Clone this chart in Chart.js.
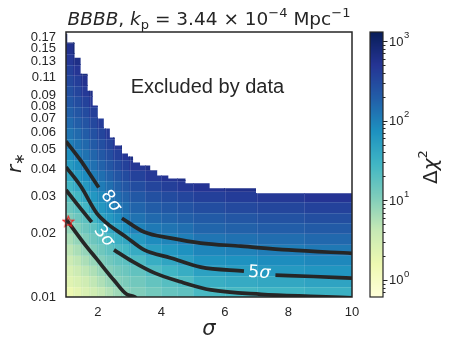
<!DOCTYPE html>
<html>
<head>
<meta charset="utf-8">
<script src="https://cdn.jsdelivr.net/npm/chart.js@4.4.0/dist/chart.umd.min.js"></script>
<style>
  html, body { margin: 0; background: #fff; }
  canvas { display: block; }
</style>
</head>
<body>
<canvas id="chi2map" width="452" height="349" style="width:452px;height:349px"></canvas>
<script>
// axis ticks
const sigmaTicks = [2, 4, 6, 8, 10];
const rTicks = [0.01, 0.02, 0.03, 0.04, 0.05, 0.06, 0.07, 0.08, 0.09, 0.11, 0.13, 0.15, 0.17];
const cbarTicks = [1, 10, 100, 1000];

// heatmap grid: column edges in sigma, row edges in r_*
const sigmaEdges = [1, 1.25, 1.5, 1.75, 2, 2.25, 2.5, 2.75, 3, 3.5, 4, 4.5, 5, 6, 7, 8.5, 10];
const rEdges = [0.0100, 0.0112, 0.0126, 0.0141, 0.0158, 0.0178, 0.0200, 0.0224, 0.0251, 0.0282,
                0.0316, 0.0355, 0.0398, 0.0447, 0.0501, 0.0562, 0.0631, 0.0708, 0.0794, 0.0891,
                0.1000, 0.1122, 0.1259, 0.1413, 0.1585, 0.1778];

// delta chi^2 per cell, row 0 = lowest r_*; rows stop where the excluded region begins
const chi2 = [
  [1.6, 2.0, 2.6, 3.3, 4.3, 5.5, 7.1, 9.2, 10.7, 13, 16, 17.5, 25, 26, 29, 33],
  [2.2, 2.7, 3.4, 4.5, 5.8, 7.6, 9.7, 11.3, 13.3, 16.5, 20, 23, 35, 38, 41, 46],
  [2.7, 3.6, 4.6, 5.8, 7.7, 10, 12.3, 14.4, 17, 22, 29, 36, 49, 53, 59, 66],
  [3.6, 4.6, 6.0, 7.9, 10.4, 13.3, 16.5, 18.5, 23.5, 34.5, 44, 51, 68, 72, 79, 87],
  [4.7, 6.1, 8.1, 10.6, 13.8, 17.6, 22.5, 27.5, 37, 52, 62, 72, 91, 98, 106, 118],
  [6.1, 8.2, 10.7, 14.2, 18, 26.5, 34.5, 41.5, 60, 81, 92, 103, 124, 134, 144, 158],
  [8.2, 10.5, 14.3, 18.2, 28, 40, 51, 69, 98, 116, 127, 140, 167, 181, 194, 210],
  [10.7, 14.3, 18.5, 29, 45.7, 59, 81, 107, 132, 155, 171, 189, 211, 232, 252, 276],
  [14.3, 18.8, 27.6, 46.5, 63, 84, 113, 138, 170, 200, 222, 245, 280, 310, 333, 360],
  [19.1, 27.4, 41.6, 63, 85, 113, 145, 179, 218, 262, 294, 328, 380, 420, 450, 495],
  [27.6, 40, 59, 84, 111, 142, 185, 230, 282, 340, 390, 440, 510, 580, 635],
  [40, 56, 80, 109, 140, 180, 237, 295, 362, 440, 510, 595],
  [56, 78, 105, 136, 176, 230, 293, 375, 470, 590],
  [78, 103, 131, 168, 221, 280, 378, 480, 630],
  [103, 128, 160, 211, 270, 355, 480, 635],
  [126, 154, 198, 255, 340, 450, 625],
  [152, 190, 242, 315, 420],
  [185, 232, 298, 385],
  [224, 280, 362, 480],
  [265, 335, 440, 610],
  [318, 400, 540],
  [372, 490, 690],
  [455, 610],
  [550, 765],
  [685, 960]
];

// upper edge of the allowed region (staircase)
const exclSigma = [1.00, 1.04, 1.27, 1.46, 1.68, 1.84, 2.00, 2.19, 2.38, 2.54, 2.76,
                   2.95, 3.11, 3.33, 3.65, 3.87, 4.22, 4.76, 5.52, 6.98, 10.0];
const exclTop = [0.176, 0.160, 0.1355, 0.114, 0.0947, 0.0805, 0.0699, 0.0627, 0.0569, 0.0521,
                 0.0478, 0.0462, 0.0433, 0.0419, 0.0397, 0.0376, 0.0364, 0.0345, 0.0327, 0.031];

// contour lines [sigma, r_*], split where the inline labels sit
const sigma8a = [[1.0, 0.0545], [1.46, 0.0443], [1.75, 0.0382], [2.03, 0.0330]];
const sigma8b = [[2.76, 0.0236], [3.46, 0.0203], [4.3, 0.0190], [5.24, 0.0180], [6.5, 0.0174], [8.0, 0.0167], [10, 0.0161]];
const sigma5a = [[1.0, 0.0412], [1.46, 0.0335], [1.97, 0.0249], [2.29, 0.0223], [2.9, 0.0192], [3.46, 0.0167], [4.3, 0.0153], [5.24, 0.01385], [6.6, 0.01327]];
const sigma5b = [[7.59, 0.0127], [8.8, 0.0125], [10, 0.01229]];
const sigma3a = [[1.0, 0.0321], [1.4, 0.0269], [1.81, 0.0226]];
const sigma3b = [[2.51, 0.0167], [3.1, 0.0147], [3.78, 0.0130], [4.6, 0.0118], [5.56, 0.0108], [7.14, 0.0103], [8.95, 0.01005], [10, 0.0099]];
const sigma2 = [[1.0, 0.0234], [1.56, 0.0180], [1.97, 0.0151], [2.51, 0.0120], [2.91, 0.0103], [3.17, 0.0100], [3.3, 0.0094]];

// inline contour labels
const levelLabels = [
  { n: '8', x: 2.41, y: 0.0284, angle: 53 },
  { n: '3', x: 2.19, y: 0.0194, angle: 52 },
  { n: '5', x: 7.08, y: 0.0130, angle: 4 }
];

// reference point
const refPoint = [[1.07, 0.0228]];

const CB_MIN = 0.61, CB_MAX = 1300;
const SANS = '"Liberation Sans", Arial, sans-serif';
const MATH = '"DejaVu Sans", sans-serif';
const INK = '#262626';

const YLGNBU = ['#ffffd9', '#edf8b1', '#c7e9b4', '#7fcdbb', '#41b6c4', '#1d91c0', '#225ea8', '#253494', '#081d58']
  .map(h => [1, 3, 5].map(k => parseInt(h.slice(k, k + 2), 16)));

function cmapFrac(t) {
  t = Math.min(1, Math.max(0, t)) * 8;
  const i = Math.min(7, Math.floor(t)), f = t - i;
  const a = YLGNBU[i], b = YLGNBU[i + 1];
  return 'rgb(' + a.map((c, k) => Math.round(c + (b[k] - c) * f)).join(',') + ')';
}
const lmin = Math.log10(CB_MIN), lmax = Math.log10(CB_MAX);
const cmap = v => cmapFrac((Math.log10(v) - lmin) / (lmax - lmin));

const toXY = pts => pts.map(p => ({ x: p[0], y: p[1] }));

function starImage(size, color) {
  const c = document.createElement('canvas');
  c.width = c.height = size;
  const g = c.getContext('2d');
  g.strokeStyle = color;
  g.lineWidth = 1.1;
  g.beginPath();
  for (let k = 0; k < 10; k++) {
    const R = k % 2 ? size * 0.19 : size * 0.44;
    const a = -Math.PI / 2 + k * Math.PI / 5;
    g.lineTo(size / 2 + R * Math.cos(a), size / 2 + 0.5 + R * Math.sin(a));
  }
  g.closePath();
  g.stroke();
  return c;
}

// draws a row of text pieces (font, text, baseline shift) centred on cx
function drawRuns(ctx, runs, cx, cy) {
  let w = 0;
  runs.forEach(r => { ctx.font = r.font; r.w = ctx.measureText(r.t).width; w += r.w; });
  let x = cx - w / 2;
  runs.forEach(r => {
    ctx.font = r.font;
    ctx.fillText(r.t, x, cy + (r.dy || 0));
    x += r.w;
  });
}

const heatmap = {
  id: 'heatmap',
  beforeDatasetsDraw(chart) {
    const { ctx, chartArea: a, scales: { x, y } } = chart;
    ctx.save();
    ctx.beginPath();
    ctx.rect(a.left, a.top, a.width, a.height);
    ctx.clip();
    // allowed region
    ctx.beginPath();
    ctx.moveTo(x.getPixelForValue(exclSigma[0]), a.bottom);
    exclTop.forEach((top, k) => {
      ctx.lineTo(x.getPixelForValue(exclSigma[k]), y.getPixelForValue(top));
      ctx.lineTo(x.getPixelForValue(exclSigma[k + 1]), y.getPixelForValue(top));
    });
    ctx.lineTo(x.getPixelForValue(exclSigma[exclSigma.length - 1]), a.bottom);
    ctx.closePath();
    ctx.clip();
    chi2.forEach((row, i) => row.forEach((v, j) => {
      const x0 = Math.floor(x.getPixelForValue(sigmaEdges[j]));
      const x1 = Math.ceil(x.getPixelForValue(sigmaEdges[j + 1]));
      const y0 = Math.floor(y.getPixelForValue(rEdges[i + 1]));
      const y1 = Math.ceil(y.getPixelForValue(rEdges[i]));
      ctx.fillStyle = cmap(v);
      ctx.fillRect(x0, y0, x1 - x0, y1 - y0);
    }));
    // faint cell edges
    ctx.strokeStyle = 'rgba(255,255,255,0.13)';
    ctx.lineWidth = 1;
    ctx.beginPath();
    sigmaEdges.slice(1, -1).forEach(s => {
      const px = Math.round(x.getPixelForValue(s)) + 0.5;
      ctx.moveTo(px, a.top);
      ctx.lineTo(px, a.bottom);
    });
    rEdges.slice(1, -1).forEach(r => {
      const py = Math.round(y.getPixelForValue(r)) + 0.5;
      ctx.moveTo(a.left, py);
      ctx.lineTo(a.right, py);
    });
    ctx.stroke();
    ctx.restore();
  },
  afterDatasetsDraw(chart) {
    const { ctx, scales: { x, y } } = chart;
    ctx.save();
    ctx.fillStyle = '#fff';
    ctx.textBaseline = 'middle';
    levelLabels.forEach(l => {
      ctx.save();
      ctx.translate(x.getPixelForValue(l.x), y.getPixelForValue(l.y));
      ctx.rotate(l.angle * Math.PI / 180);
      drawRuns(ctx, [
        { t: l.n, font: '17.5px ' + MATH },
        { t: 'σ', font: 'italic 17.5px ' + MATH }
      ], 0, 0);
      ctx.restore();
    });
    ctx.restore();
  }
};

const decor = {
  id: 'decor',
  afterDraw(chart) {
    const { ctx, chartArea: a, scales: { x, y } } = chart;
    ctx.save();
    ctx.fillStyle = INK;

    // note inside the excluded area
    ctx.font = '20px ' + SANS;
    ctx.textAlign = 'center';
    ctx.textBaseline = 'middle';
    ctx.fillText('Excluded by data', x.getPixelForValue(5.45), y.getPixelForValue(0.098));

    // frame
    ctx.strokeStyle = INK;
    ctx.lineWidth = 1.5;
    ctx.strokeRect(a.left, a.top, a.width, a.height);

    // title
    ctx.textAlign = 'left';
    ctx.textBaseline = 'alphabetic';
    drawRuns(ctx, [
      { t: 'BBBB', font: 'italic 18.5px ' + MATH },
      { t: ', ', font: '18.5px ' + MATH },
      { t: 'k', font: 'italic 18.5px ' + MATH },
      { t: 'p', font: '13px ' + MATH, dy: 4 },
      { t: ' = 3.44 × 10', font: '18.5px ' + MATH },
      { t: '−4', font: '13px ' + MATH, dy: -8 },
      { t: ' Mpc', font: '18.5px ' + MATH },
      { t: '−1', font: '13px ' + MATH, dy: -8 }
    ], (a.left + a.right) / 2, 25);

    // axis titles
    ctx.textBaseline = 'middle';
    drawRuns(ctx, [{ t: 'σ', font: 'italic 21px ' + MATH }], (a.left + a.right) / 2, 330);
    ctx.save();
    ctx.translate(16, 163);
    ctx.rotate(-Math.PI / 2);
    drawRuns(ctx, [
      { t: 'r', font: 'italic 20px ' + MATH },
      { t: '∗', font: '14px ' + MATH, dy: 4 }
    ], 0, 0);
    ctx.restore();

    // colour bar
    const cbL = 370, cbR = 383, cbT = a.top, cbB = a.bottom;
    const cbY = v => cbB - (Math.log10(v) - lmin) / (lmax - lmin) * (cbB - cbT);
    for (let py = cbT; py < cbB; py++) {
      ctx.fillStyle = cmapFrac((cbB - py - 0.5) / (cbB - cbT));
      ctx.fillRect(cbL, py, cbR - cbL, 1);
    }
    ctx.strokeStyle = INK;
    ctx.lineWidth = 1.2;
    ctx.strokeRect(cbL, cbT, cbR - cbL, cbB - cbT);
    ctx.lineWidth = 1;
    ctx.beginPath();
    for (let d = -1; d <= 3; d++) {
      for (let m = 1; m <= 9; m++) {
        const v = m * Math.pow(10, d);
        if (v < CB_MIN || v > CB_MAX) continue;
        const py = Math.round(cbY(v)) + 0.5;
        ctx.moveTo(cbR, py);
        ctx.lineTo(cbR + (m === 1 ? 4.5 : 2.5), py);
      }
    }
    ctx.stroke();
    ctx.fillStyle = INK;
    ctx.textAlign = 'left';
    ctx.textBaseline = 'middle';
    cbarTicks.forEach(v => {
      const py = cbY(v);
      ctx.font = '13px ' + SANS;
      ctx.fillText('10', 389, py + 1);
      const w = ctx.measureText('10').width;
      ctx.font = '9.5px ' + SANS;
      ctx.fillText(String(Math.round(Math.log10(v))), 389 + w + 0.5, py - 6);
    });
    ctx.save();
    ctx.translate(432, 167);
    ctx.rotate(-Math.PI / 2);
    drawRuns(ctx, [
      { t: 'Δ', font: '20px ' + MATH },
      { t: 'χ', font: 'italic 20px ' + MATH },
      { t: '2', font: '13px ' + MATH, dy: -8 }
    ], 0, 0);
    ctx.restore();

    ctx.restore();
  }
};

const lineStyle = {
  showLine: true,
  borderColor: INK,
  borderWidth: 3.7,
  pointRadius: 0,
  cubicInterpolationMode: 'monotone',
  borderCapStyle: 'butt',
  order: 1
};

new Chart(document.getElementById('chi2map'), {
  type: 'scatter',
  data: {
    datasets: [
      { ...lineStyle, data: toXY(sigma8a) },
      { ...lineStyle, data: toXY(sigma8b) },
      { ...lineStyle, data: toXY(sigma5a) },
      { ...lineStyle, data: toXY(sigma5b) },
      { ...lineStyle, data: toXY(sigma3a) },
      { ...lineStyle, data: toXY(sigma3b) },
      { ...lineStyle, data: toXY(sigma2) },
      {
        data: toXY(refPoint),
        pointStyle: starImage(13, '#ee1c1c'),
        pointRadius: 6,
        clip: false,
        order: 0
      }
    ]
  },
  options: {
    responsive: false,
    animation: false,
    devicePixelRatio: 1,
    layout: { padding: { left: 0, right: 100, top: 32, bottom: 0 } },
    plugins: { legend: { display: false }, tooltip: { enabled: false } },
    scales: {
      x: {
        type: 'linear',
        min: 1,
        max: 10,
        grid: { display: false, drawTicks: false },
        border: { display: false },
        ticks: {
          autoSkip: false, maxRotation: 0, padding: 8, color: INK,
          font: { family: SANS, size: 13 },
          callback: v => String(v)
        },
        afterBuildTicks: s => { s.ticks = sigmaTicks.map(v => ({ value: v })); },
        afterFit: s => { s.height = 52; }
      },
      y: {
        type: 'logarithmic',
        min: 0.01,
        max: 0.1795,
        grid: { display: false, drawTicks: false },
        border: { display: false },
        ticks: {
          autoSkip: false, padding: 10, color: INK,
          font: { family: SANS, size: 13 },
          callback: v => String(v)
        },
        afterBuildTicks: s => { s.ticks = rTicks.map(v => ({ value: v })); },
        afterFit: s => { s.width = 66; }
      }
    }
  },
  plugins: [heatmap, decor]
});
</script>
</body>
</html>
